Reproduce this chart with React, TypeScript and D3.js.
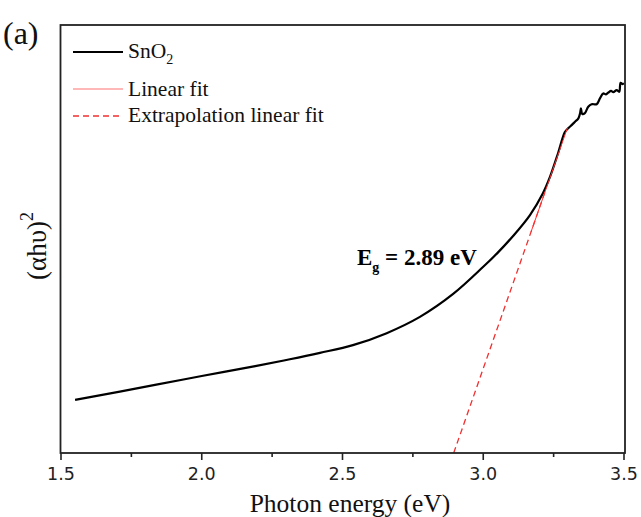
import React from "react";
import * as d3 from "d3";

const energy = [1.55, 1.834, 2.0, 2.19, 2.313, 2.42, 2.537, 2.657, 2.775, 2.892, 3.0, 3.05, 3.106, 3.166, 3.212, 3.237, 3.266, 3.29, 3.302, 3.314, 3.326, 3.338, 3.344, 3.347, 3.352, 3.361, 3.373, 3.385, 3.403, 3.415, 3.426, 3.436, 3.444, 3.454, 3.462, 3.474, 3.483, 3.488, 3.495, 3.5];
const absorb = [1.24, 1.59, 1.8, 2.03, 2.19, 2.34, 2.52, 2.8, 3.18, 3.71, 4.35, 4.67, 5.07, 5.56, 6.07, 6.45, 7.01, 7.5, 7.59, 7.66, 7.74, 7.82, 7.94, 8.05, 7.92, 7.94, 8.09, 8.15, 8.15, 8.29, 8.4, 8.38, 8.42, 8.46, 8.43, 8.48, 8.44, 8.65, 8.62, 8.64];

const bandGap = 2.895;
const fitSlope = 18.8;
const fitRange = [3.17, 3.3];
const extrapRange = [bandGap, 3.22];

const majorTicks = [1.5, 2.0, 2.5, 3.0, 3.5];
const minorTicks = [1.75, 2.25, 2.75, 3.25];
const tickLabels = ["1.5", "2.0", "2.5", "3.0", "3.5"];

const W = 641, H = 517;
const L = 60.5, R = 625, T = 25, B = 453;

export default function App() {
  const x = d3.scaleLinear().domain([1.5, 3.5]).range([61, 624]);
  const y = d3.scaleLinear().domain([0, 10]).range([B, T]);
  const pts: [number, number][] = energy.map((e, i) => [e, absorb[i]]);
  const line = d3.line<[number, number]>().x(d => x(d[0])).y(d => y(d[1])).curve(d3.curveCatmullRom.alpha(0.5));
  const fitLine = (a: number) => fitSlope * (a - bandGap);
  const serif = "'Liberation Serif', 'Times New Roman', serif";
  const sans = "'DejaVu Sans', Verdana, sans-serif";

  return (
    <div style={{ position: "absolute", left: 0, top: 0 }}>
      <svg width={W} height={H} style={{ display: "block", background: "#fff" }}>
        <rect x={0} y={0} width={W} height={H} fill="#fff" />
        {/* data curve */}
        <path d={line(pts) || ""} fill="none" stroke="#000" strokeWidth={2.2} strokeLinejoin="round" />
        {/* extrapolation */}
        <line x1={x(extrapRange[0])} y1={y(fitLine(extrapRange[0]))} x2={x(extrapRange[1])} y2={y(fitLine(extrapRange[1]))}
          stroke="#f03030" strokeWidth={1.3} strokeDasharray="6,4" />
        {/* linear fit */}
        <line x1={x(fitRange[0])} y1={y(fitLine(fitRange[0]))} x2={x(fitRange[1])} y2={y(fitLine(fitRange[1]))}
          stroke="#ff3030" strokeWidth={1} />
        {/* frame */}
        <rect x={L} y={T} width={R - L} height={B - T} fill="none" stroke="#222" strokeWidth={1.8} />
        {/* ticks */}
        {majorTicks.map((t, i) => (
          <g key={"M" + t}>
            <line x1={x(t)} x2={x(t)} y1={B} y2={B + 7} stroke="#222" strokeWidth={1.6} />
            <text x={x(t)} y={480} textAnchor="middle" fontFamily={sans} fontSize={17.5} fill="#222">{tickLabels[i]}</text>
          </g>
        ))}
        {minorTicks.map(t => (
          <line key={"m" + t} x1={x(t)} x2={x(t)} y1={B} y2={B + 4} stroke="#222" strokeWidth={1.6} />
        ))}
        {/* axis titles */}
        <text x={350} y={512} textAnchor="middle" fontFamily={serif} fontSize={25.5} fill="#111">Photon energy (eV)</text>
        <text transform="translate(46,246) rotate(-90)" textAnchor="middle" fontFamily={serif} fontSize={27} fill="#111">
          (αhυ)<tspan fontSize={18} dy={-13}>2</tspan>
        </text>
        <text x={3} y={44} fontFamily={serif} fontSize={32} fill="#111">(a)</text>
        {/* legend */}
        <line x1={73} x2={123} y1={52} y2={52} stroke="#000" strokeWidth={2.2} />
        <text x={128} y={58} fontFamily={serif} fontSize={21.5} fill="#111">SnO<tspan fontSize={14} dy={6}>2</tspan></text>
        <line x1={73} x2={123} y1={89} y2={89} stroke="#ff7070" strokeWidth={1} />
        <text x={128} y={96} fontFamily={serif} fontSize={21.5} fill="#111">Linear fit</text>
        <line x1={73} x2={123} y1={116} y2={116} stroke="#f03030" strokeWidth={1.3} strokeDasharray="6,4" />
        <text x={128} y={122} fontFamily={serif} fontSize={21.5} fill="#111">Extrapolation linear fit</text>
        {/* annotation */}
        <text x={357} y={265} fontFamily={serif} fontSize={23} fontWeight="bold" fill="#000">
          E<tspan fontSize={14} dy={7}>g</tspan><tspan dy={-7}> = 2.89 eV</tspan>
        </text>
      </svg>
    </div>
  );
}
